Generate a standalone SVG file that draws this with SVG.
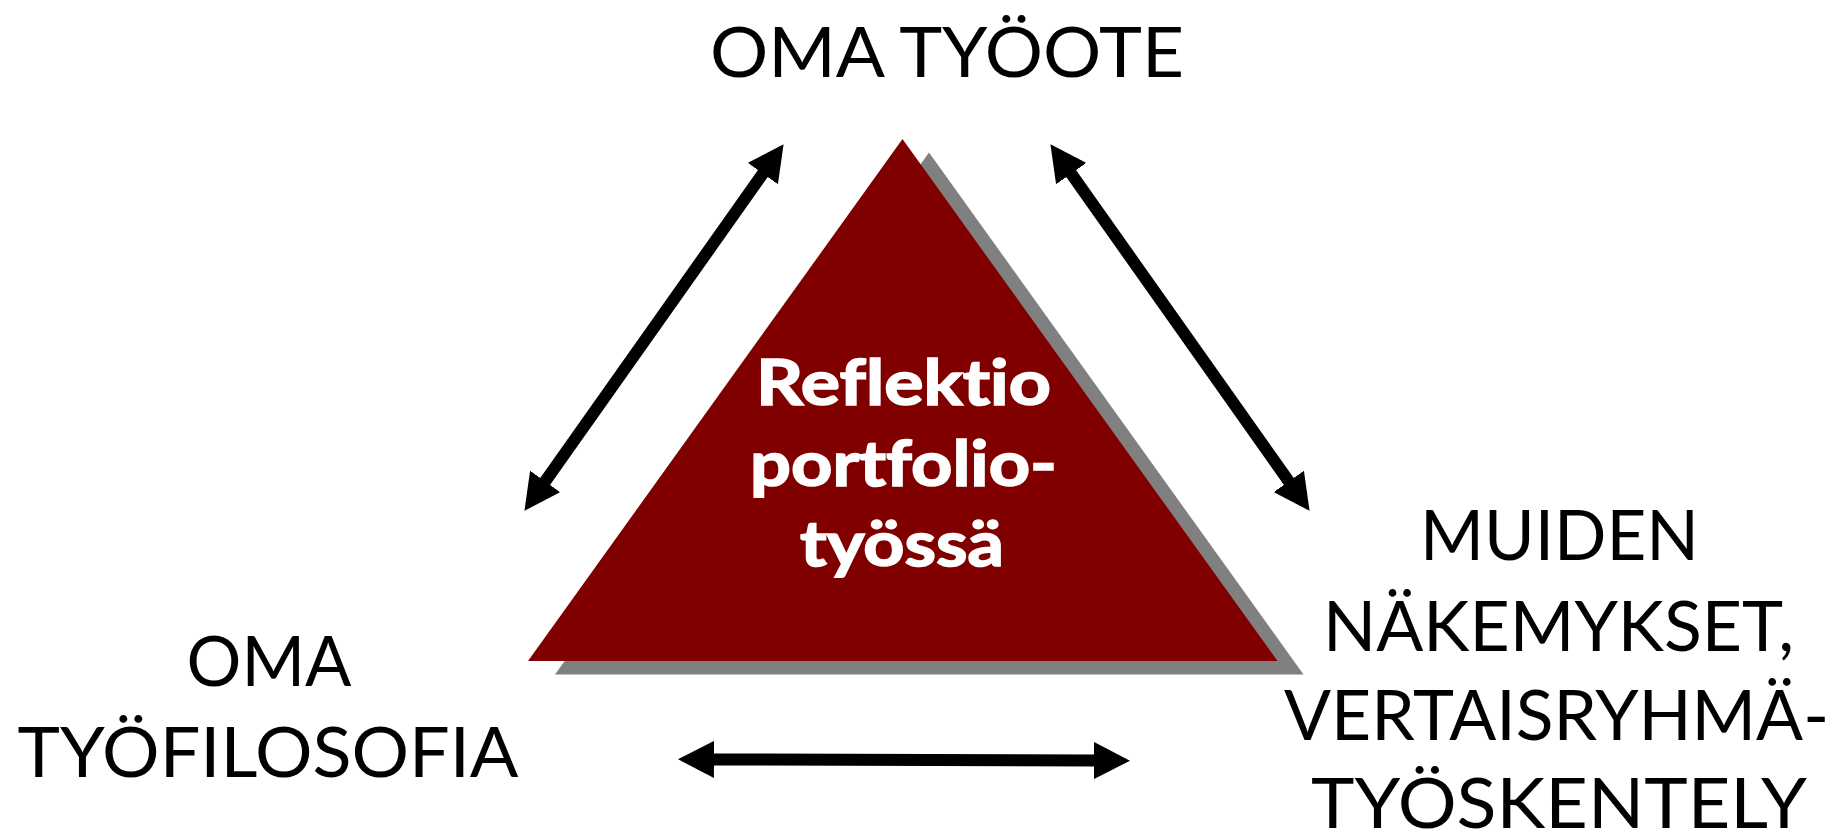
<svg xmlns="http://www.w3.org/2000/svg" width="1845" height="834" viewBox="0 0 1845 834">
<style>
.lbl{font-family:Lato,"Open Sans","Liberation Sans",sans-serif;font-size:70px;fill:#000;text-anchor:middle;font-variant-ligatures:none;font-feature-settings:"liga" 0}
.ctr{font-family:Lato,"Open Sans","Liberation Sans",sans-serif;font-size:63px;font-weight:bold;fill:#fff;stroke:#fff;stroke-width:1.6;text-anchor:middle;font-variant-ligatures:none;font-feature-settings:"liga" 0,"dlig" 0}
.conn{stroke:#000;stroke-width:12;fill:none;marker-start:url(#ah);marker-end:url(#ah)}
</style>
<defs>
<marker id="ah" markerUnits="userSpaceOnUse" viewBox="0 0 36 37" refX="2" refY="18.5" markerWidth="36" markerHeight="37" orient="auto-start-reverse">
<path d="M0,0 L36,18.5 L0,37 z" fill="#000"/>
</marker>
</defs>
<rect width="1845" height="834" fill="#fff"/>
<g id="center-triangle">
<polygon points="929,152.5 555,674.5 1303.5,674.5" fill="#808080"/>
<polygon points="902.5,139 528,661 1277.5,661" fill="#800000"/>
<text class="ctr" x="903.5" y="405" textLength="295" lengthAdjust="spacingAndGlyphs">Reflektio</text>
<text class="ctr" x="903.5" y="485.5" textLength="307" lengthAdjust="spacingAndGlyphs">portfolio-</text>
<text class="ctr" x="902" y="565.5" textLength="204" lengthAdjust="spacingAndGlyphs">työssä</text>
</g>
<g id="top-node">
<text class="lbl" x="947" y="76.5" textLength="474" lengthAdjust="spacingAndGlyphs">OMA TYÖOTE</text>
</g>
<g id="left-node">
<text class="lbl" x="269" y="686" textLength="165" lengthAdjust="spacingAndGlyphs">OMA</text>
<text class="lbl" x="268" y="776.5" textLength="501" lengthAdjust="spacingAndGlyphs">TYÖFILOSOFIA</text>
</g>
<g id="right-node">
<text class="lbl" x="1559.5" y="560" textLength="279" lengthAdjust="spacingAndGlyphs">MUIDEN</text>
<text class="lbl" x="1558.5" y="650.7" textLength="471" lengthAdjust="spacingAndGlyphs">NÄKEMYKSET,</text>
<text class="lbl" x="1556.5" y="740" textLength="545" lengthAdjust="spacingAndGlyphs">VERTAISRYHMÄ-</text>
<text class="lbl" x="1559" y="828" textLength="496" lengthAdjust="spacingAndGlyphs">TYÖSKENTELY</text>
</g>
<g id="connectors">
<line class="conn" x1="763.95" y1="171.95" x2="544.05" y2="483.05"/>
<line class="conn" x1="1070.05" y1="171.95" x2="1289.95" y2="483.05"/>
<line class="conn" x1="712" y1="759.4" x2="1096" y2="760.6"/>
</g>
</svg>
